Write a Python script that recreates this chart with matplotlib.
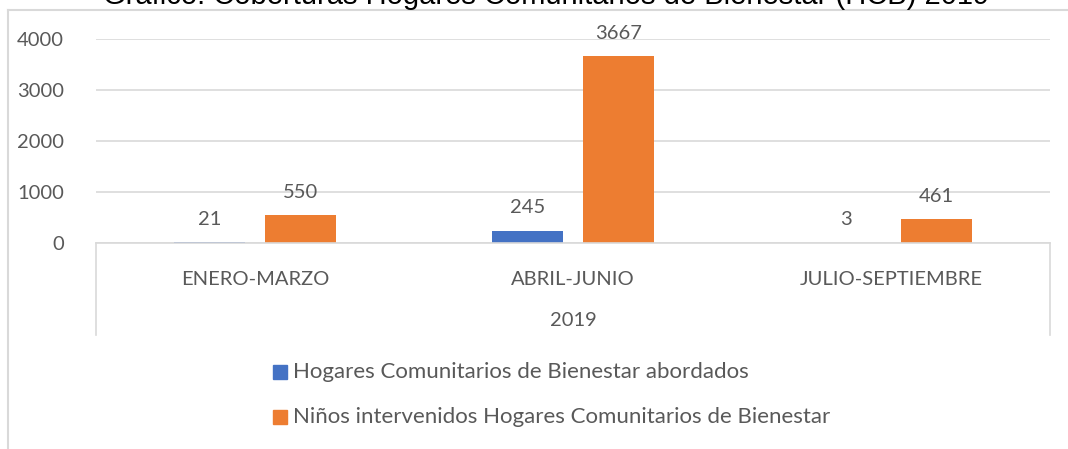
import matplotlib.pyplot as plt
import numpy as np
from matplotlib.lines import Line2D
from matplotlib.patches import Rectangle

# data
periodos = ['ENERO-MARZO', 'ABRIL-JUNIO', 'JULIO-SEPTIEMBRE']
anio = '2019'
hogares = [21, 245, 3]
ninos = [550, 3667, 461]
series_names = ['Hogares Comunitarios de Bienestar abordados',
                'Niños intervenidos Hogares Comunitarios de Bienestar']
yticks = [0, 1000, 2000, 3000, 4000]

BLUE = '#4472C4'
ORANGE = '#ED7D31'
TXT = '#595959'
GRID = '#D9D9D9'

W, H = 1068, 449
plt.rcParams['font.family'] = ['Lato', 'DejaVu Sans']

fig = plt.figure(figsize=(W / 100, H / 100), dpi=100)
ax = fig.add_axes([96 / W, 1 - 243 / H, (1050 - 96) / W, (243 - 39) / H])

x = np.arange(len(periodos))
bw = 0.223
off = 0.143
b1 = ax.bar(x - off, hogares, bw, color=BLUE, label=series_names[0])
b2 = ax.bar(x + off, ninos, bw, color=ORANGE, label=series_names[1])

for bars in (b1, b2):
    for r in bars:
        ax.annotate(f'{int(r.get_height())}', (r.get_x() + r.get_width() / 2, r.get_height()),
                    xytext=(0, 16.5), textcoords='offset points', ha='center', va='center',
                    fontsize=14.5, color=TXT)

ax.set_xlim(-0.5, 2.5)
ax.set_ylim(0, 4000)
ax.set_yticks(yticks)
ax.yaxis.grid(True, color=GRID, linewidth=1.2)
ax.set_axisbelow(True)
ax.tick_params(axis='y', length=0, pad=23, labelsize=14.5, labelcolor=TXT)
ax.set_xticks(x)
ax.set_xticklabels(periodos)
ax.tick_params(axis='x', length=0, pad=20, labelsize=14.5, labelcolor=TXT)
for s in ['top', 'right', 'left']:
    ax.spines[s].set_visible(False)
ax.spines['bottom'].set_color(GRID)
ax.spines['bottom'].set_linewidth(1.2)

# category box
depth = (335 - 243) / (243 - 39)
for xx in (0, 1):
    ax.add_line(Line2D([xx, xx], [0, -depth], transform=ax.transAxes, color=GRID,
                       linewidth=1.2, clip_on=False))
ax.text(0.5, -(321 - 243) / (243 - 39), anio, transform=ax.transAxes, ha='center',
        va='center', fontsize=14.5, color=TXT)

# legend (drawn by hand to sit where the original puts it)
for i, (name, col) in enumerate(zip(series_names, [BLUE, ORANGE])):
    yc = 372 + 45 * i
    fig.add_artist(Rectangle((273 / W, 1 - (yc + 7) / H), 14 / W, 14 / H,
                             transform=fig.transFigure, color=col))
    fig.text(293 / W, 1 - yc / H, name, ha='left', va='center', fontsize=16, color=TXT)

# outer chart frame and clipped title
fig.add_artist(Line2D([8 / W, 1], [1 - 10 / H, 1 - 10 / H], transform=fig.transFigure,
                      color=GRID, linewidth=1.5))
fig.add_artist(Line2D([8 / W, 8 / W], [0, 1 - 10 / H], transform=fig.transFigure,
                      color=GRID, linewidth=1.5))
fig.text(546 / W, 1 - 4 / H, 'Gráfico. Coberturas Hogares Comunitarios de Bienestar (HCB) 2019',
         ha='center', va='baseline', fontsize=21, family='Liberation Sans', color='#000000')

fig.savefig('out.png', dpi=100)
